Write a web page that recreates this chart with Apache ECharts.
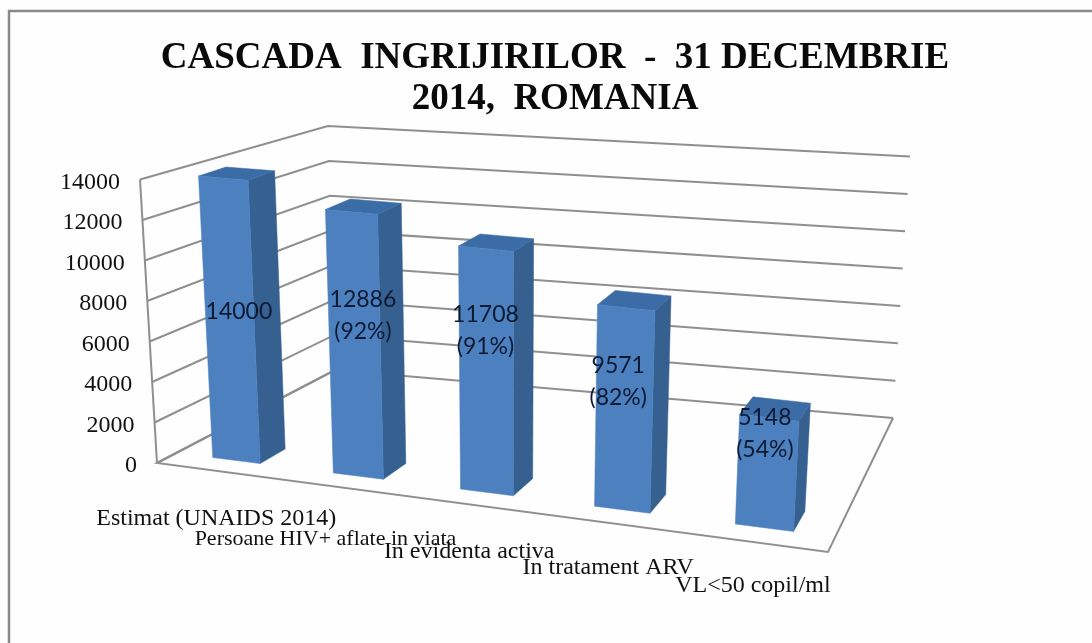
<!DOCTYPE html>
<html>
<head>
<meta charset="utf-8">
<script src="https://cdn.jsdelivr.net/npm/echarts@6/dist/echarts.min.js"></script>
<style>
html,body{margin:0;padding:0;background:#fefefe;}
#c{width:1092px;height:643px;filter:blur(0.5px);}
</style>
</head>
<body>
<div id="c"></div>
<script>
const categories = ['Estimat (UNAIDS 2014)', 'Persoane HIV+ aflate in viata', 'In evidenta activa', 'In tratament ARV', 'VL<50 copil/ml'];
const values = [14000, 12886, 11708, 9571, 5148];
const percents = ['', '92%', '91%', '82%', '54%'];
const yTicks = [0, 2000, 4000, 6000, 8000, 10000, 12000, 14000];
const titleLines = ['CASCADA  INGRIJIRILOR  -  31 DECEMBRIE', '2014,  ROMANIA'];

// perspective box: floor plane corners (front-left, front-right, back-right, back-left),
// height of the 14000 level at those corners, and the point where verticals converge
const floorQuad = [[157,463],[828,552],[893,418],[335,370]];
const cornerHeights = [284,305,262,244];
const vanish = [509,6337];
function homography(q){
  const [x0,y0]=q[0],[x1,y1]=q[1],[x2,y2]=q[2],[x3,y3]=q[3];
  const dx1=x1-x2,dx2=x3-x2,sx=x0-x1+x2-x3,dy1=y1-y2,dy2=y3-y2,sy=y0-y1+y2-y3;
  const den=dx1*dy2-dx2*dy1;
  const g=(sx*dy2-dx2*sy)/den,h=(dx1*sy-sx*dy1)/den;
  const a=x1-x0+g*x1,b=x3-x0+h*x3,d=y1-y0+g*y1,e=y3-y0+h*y3;
  return (u,w)=>{const k=g*u+h*w+1;return [(a*u+b*w+x0)/k,(d*u+e*w+y0)/k];};
}
const Hf=homography(floorQuad);
function project(u,w,v){
  const a=Hf(u,w);
  const H=(cornerHeights[0]*(1-u)+cornerHeights[1]*u)*(1-w)+(cornerHeights[3]*(1-u)+cornerHeights[2]*u)*w;
  const dx=a[0]-vanish[0],dy=a[1]-vanish[1],len=Math.hypot(dx,dy);
  return [a[0]+dx/len*H*v,a[1]+dy/len*H*v];
}
function warp(u){return u+0.12*u*(1-u)+0.003;}
function toUnit(api,params,pt){
  const c=params.coordSys;
  return [(pt[0]-c.x)/c.width,(c.y+c.height-pt[1])/c.height];
}
const LINE='#8f8f8f';
const SERIF='"Liberation Serif","Times New Roman",serif';
function poly(points,fill){return {type:'polygon',shape:{points},style:{fill,stroke:fill,lineWidth:0.5}};}

function renderWall(params,api){
  const t=toUnit(api,params,api.coord([0,api.value(1)]));
  const v=t[1];
  const kids=[{type:'polyline',shape:{points:[project(0,0,v),project(0,1,v),project(1,1,v)]},style:{fill:'none',stroke:LINE,lineWidth:2}}];
  if(api.value(1)===0){
    kids.push({type:'polyline',shape:{points:[project(0,1,0),project(0,0,0),project(1,0,0),project(1,1,0)]},style:{fill:'none',stroke:LINE,lineWidth:2}});
    kids.push({type:'line',shape:{x1:project(0,0,0)[0],y1:project(0,0,0)[1],x2:project(0,0,1)[0],y2:project(0,0,1)[1]},style:{stroke:LINE,lineWidth:2}});
  }
  const p=project(0,0,v);
  kids.push({type:'text',style:{text:String(api.value(1)),x:p[0]-20,y:p[1]+3,align:'right',verticalAlign:'middle',fontFamily:SERIF,fontSize:24,fill:'#111'}});
  return {type:'group',children:kids};
}

const D0=0.09,D1=0.22,HALF=0.2; // bar depth and half width, in plot fractions
const labelNudge=[[9,-8],[8,-28],[-1,-40],[-6,-27],[-2,-39]];
const catNudge=[[6,49],[1,54],[19,50],[19,47],[9,45]];
const catSize=[24,22,24,24,24];
function renderBar(params,api){
  const i=api.value(0),val=api.value(1);
  const band=1/categories.length;
  const uc=toUnit(api,params,api.coord([i,0]))[0];
  const v=toUnit(api,params,api.coord([i,val]))[1];
  const u0=warp(uc-band*HALF),u1=warp(uc+band*HALF);
  const P=(u,w,vv)=>project(u,w,vv);
  const a=P(u0,D0,0),b=P(u1,D0,0),c=P(u1,D0,v),d=P(u0,D0,v);
  const e=P(u1,D1,0),f=P(u1,D1,v),g=P(u0,D1,v);
  const cx=(a[0]+b[0]+c[0]+d[0])/4,cy=(a[1]+b[1]+c[1]+d[1])/4;
  const pct=percents[i];
  const txt=pct?val+'\n('+pct+')':String(val);
  const fl=project(uc,0,0);
  return {type:'group',children:[
    poly([b,e,f,c],'#35608f'),
    poly([d,c,f,g],'#3b6ca6'),
    poly([a,b,c,d],'#4c80bf'),
    {type:'text',z2:10,style:{text:txt,x:cx+labelNudge[i][0],y:cy+labelNudge[i][1],align:'center',verticalAlign:'middle',fontFamily:'Lato',fontSize:23,lineHeight:32,fill:'#0d1a33'}},
    {type:'text',z2:10,style:{text:categories[i],x:fl[0]+catNudge[i][0],y:fl[1]+catNudge[i][1],align:'center',verticalAlign:'middle',fontFamily:SERIF,fontSize:catSize[i],fill:'#111'}}
  ]};
}

const chart=echarts.init(document.getElementById('c'));
chart.setOption({
  animation:false,
  backgroundColor:'#fefefe',
  title:{text:titleLines.join('\n'),left:550,top:33,textAlign:'center',textStyle:{fontFamily:SERIF,fontWeight:'bold',fontSize:37,lineHeight:41,color:'#0a0a0a'}},
  graphic:[{type:'rect',z:-1,shape:{x:9,y:11,width:1200,height:900},style:{fill:'none',stroke:'#8a8a8a',lineWidth:2.5}}],
  grid:{left:157,top:179,width:671,height:284},
  xAxis:{type:'category',data:categories,show:false},
  yAxis:{type:'value',min:0,max:14000,interval:2000,show:false},
  series:[
    {type:'custom',name:'walls',renderItem:renderWall,clip:false,silent:true,encode:{x:0,y:1},z:1,data:yTicks.map(t=>[0,t])},
    {type:'custom',name:'values',renderItem:renderBar,clip:false,silent:true,encode:{x:0,y:1},z:2,data:values.map((v,i)=>[i,v])}
  ]
});
</script>
</body>
</html>
